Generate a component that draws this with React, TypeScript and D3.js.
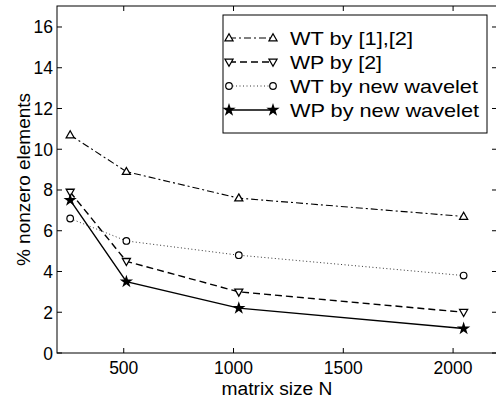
import React, { useEffect, useRef } from "react";
import * as d3 from "d3";

// matrix sizes N
const sizes = [256, 512, 1024, 2048];
// % nonzero elements per method
const wtOld = [10.7, 8.9, 7.6, 6.7];
const wpOld = [7.9, 4.5, 3.0, 2.0];
const wtNew = [6.6, 5.5, 4.8, 3.8];
const wpNew = [7.5, 3.5, 2.2, 1.2];
const seriesNames = ["WT by [1],[2]", "WP by [2]", "WT by new wavelet", "WP by new wavelet"];
const xTicks = [500, 1000, 1500, 2000];
const yTicks = [0, 2, 4, 6, 8, 10, 12, 14, 16];

const W = 496, H = 398;

const App = () => {
    const svgRef = useRef();

    useEffect(() => {
        const svg = d3.select(svgRef.current);
        svg.selectAll("*").remove();

        const left = 57, right = 497, top = 6, bottom = 353;
        const x = d3.scaleLinear().domain([196, 2200]).range([left, right]);
        const y = d3.scaleLinear().domain([0, 17.03]).range([bottom, top]);
        const font = "Liberation Sans, Arial, Helvetica, sans-serif";

        // box
        svg.append("rect").attr("x", left).attr("y", top).attr("width", right - left).attr("height", bottom - top)
            .attr("fill", "white").attr("stroke", "#000").attr("stroke-width", 1);

        const tl = 5;
        const ax = svg.append("g").attr("stroke", "#000").attr("stroke-width", 1);
        xTicks.forEach(t => {
            ax.append("line").attr("x1", x(t)).attr("x2", x(t)).attr("y1", bottom).attr("y2", bottom - tl);
            ax.append("line").attr("x1", x(t)).attr("x2", x(t)).attr("y1", top).attr("y2", top + tl);
        });
        yTicks.forEach(t => {
            ax.append("line").attr("x1", left).attr("x2", left + tl).attr("y1", y(t)).attr("y2", y(t));
            ax.append("line").attr("x1", right).attr("x2", right - tl).attr("y1", y(t)).attr("y2", y(t));
        });

        svg.selectAll(".xt").data(xTicks).enter().append("text")
            .attr("x", d => x(d)).attr("y", 373.5).attr("text-anchor", "middle")
            .attr("font-family", font).attr("font-size", 17.5).text(d => d);
        svg.selectAll(".yt").data(yTicks).enter().append("text")
            .attr("x", left - 4).attr("y", d => y(d) + 6.5).attr("text-anchor", "end")
            .attr("font-family", font).attr("font-size", 17.5).text(d => d);

        svg.append("text").attr("x", 277).attr("y", 395).attr("text-anchor", "middle")
            .attr("font-family", font).attr("font-size", 18).attr("textLength", 111)
            .attr("lengthAdjust", "spacingAndGlyphs").text("matrix size N");
        svg.append("text").attr("transform", `translate(30,${(top + bottom) / 2}) rotate(-90)`)
            .attr("text-anchor", "middle").attr("font-family", font).attr("font-size", 19)
            .text("% nonzero elements");

        const styles = [
            { data: wtOld, dash: "7,3,2,3", width: 1.1, sym: "up" },
            { data: wpOld, dash: "7,4", width: 1.4, sym: "down" },
            { data: wtNew, dash: "1,2.5", width: 0.8, sym: "circle" },
            { data: wpNew, dash: null, width: 1.4, sym: "star" },
        ];

        const drawMarker = (g, sym, cx, cy) => {
            if (sym === "up" || sym === "down") {
                const s = sym === "up" ? 1 : -1;
                g.append("path")
                    .attr("d", `M${cx},${cy - 4.2 * s} L${cx + 4},${cy + 2.8 * s} L${cx - 4},${cy + 2.8 * s} Z`)
                    .attr("fill", "white").attr("stroke", "#000").attr("stroke-width", 1.3);
            } else if (sym === "circle") {
                g.append("circle").attr("cx", cx).attr("cy", cy).attr("r", 3.3)
                    .attr("fill", "white").attr("stroke", "#000").attr("stroke-width", 1.2);
            } else {
                g.append("path").attr("d", d3.symbol(d3.symbolStar, 55)())
                    .attr("transform", `translate(${cx},${cy})`).attr("fill", "#000");
            }
        };

        const line = d3.line().x((d, i) => x(sizes[i])).y(d => y(d));
        styles.forEach(st => {
            const g = svg.append("g");
            g.append("path").attr("d", line(st.data)).attr("fill", "none").attr("stroke", "#000")
                .attr("stroke-width", st.width).attr("stroke-dasharray", st.dash);
            st.data.forEach((v, i) => drawMarker(g, st.sym, x(sizes[i]), y(v)));
        });

        // legend
        const lg = svg.append("g");
        lg.append("rect").attr("x", 223).attr("y", 15).attr("width", 264).attr("height", 118)
            .attr("fill", "white").attr("stroke", "#000").attr("stroke-width", 1);
        const rowY = [38, 62, 86, 110];
        const textW = [123, 92, 188, 189];
        styles.forEach((st, i) => {
            lg.append("line").attr("x1", 229).attr("x2", 273).attr("y1", rowY[i]).attr("y2", rowY[i])
                .attr("stroke", "#000").attr("stroke-width", st.width).attr("stroke-dasharray", st.dash);
            drawMarker(lg, st.sym, 229, rowY[i]);
            drawMarker(lg, st.sym, 273, rowY[i]);
            lg.append("text").attr("x", 290).attr("y", rowY[i] + 7).attr("font-family", font)
                .attr("font-size", 19).attr("textLength", textW[i]).attr("lengthAdjust", "spacingAndGlyphs")
                .text(seriesNames[i]);
        });
    }, []);

    return <svg ref={svgRef} width={W} height={H} style={{ position: "absolute", left: 0, top: 0, background: "white" }}></svg>;
};

export default App;
